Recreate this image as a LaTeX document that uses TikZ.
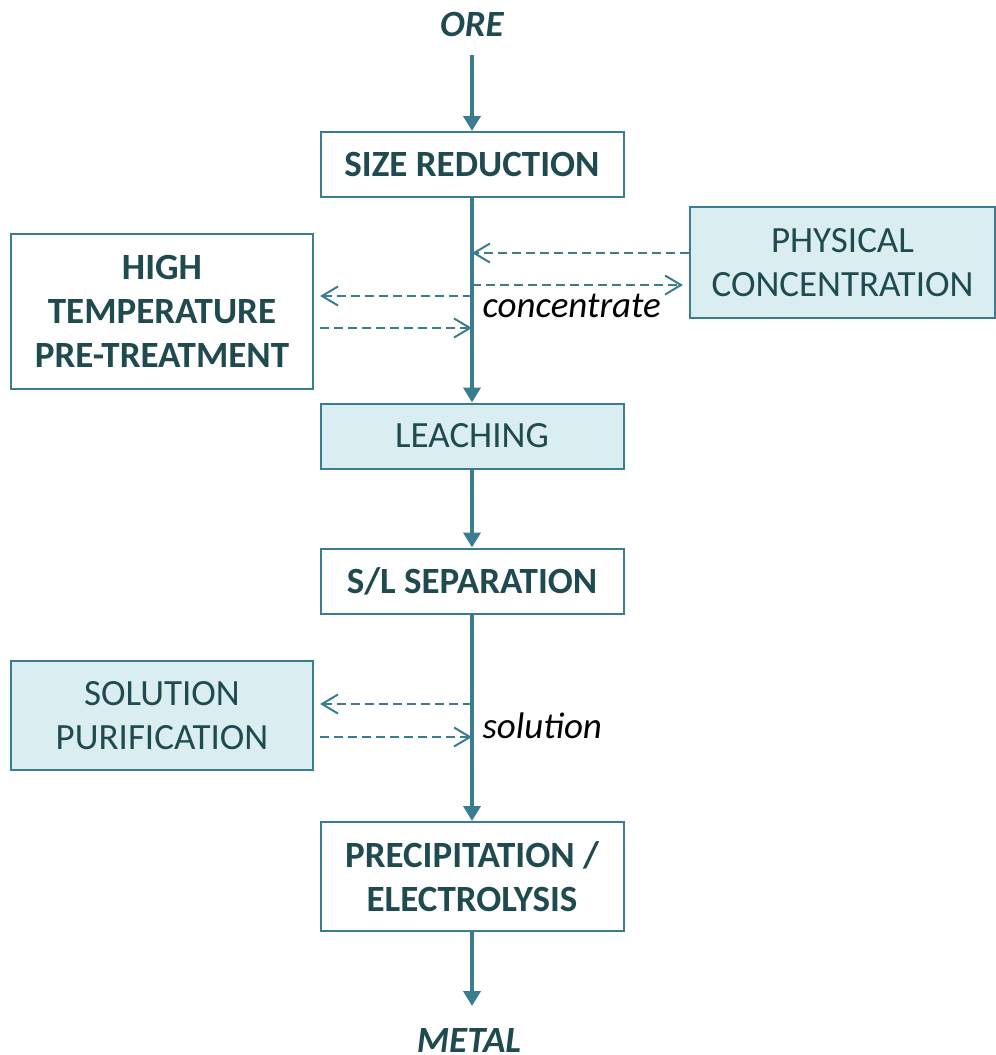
\documentclass[tikz,border=0pt]{standalone}
\usepackage{fontspec}
\setmainfont{Carlito}
\usetikzlibrary{arrows.meta}

\definecolor{linecol}{HTML}{3B7D90}
\definecolor{boxfill}{HTML}{DAEDF0}
\definecolor{textcol}{HTML}{1F4A4F}

\tikzset{
  stage/.style={draw=linecol,line width=2pt,minimum width=303pt,minimum height=65pt,
    align=center,inner sep=0pt,text=textcol,font=\fontsize{37}{44}\selectfont},
  key/.style={stage,font=\fontsize{37}{44}\selectfont\bfseries},
  side/.style={stage,fill=boxfill},
  flow/.style={draw=linecol,line width=4pt,-{Triangle[length=15pt,width=17pt]}},
  loop/.style={draw=linecol,line width=2pt,dash pattern=on 9pt off 5pt,
    -{Straight Barb[length=16pt,width=19pt,line width=2pt]}},
  io/.style={text=textcol,font=\fontsize{37}{44}\selectfont\bfseries\itshape},
  note/.style={font=\fontsize{37}{44}\selectfont\itshape,anchor=west}
}

\begin{document}
\begin{tikzpicture}[x=1pt,y=-1pt]
\useasboundingbox (0,0) rectangle (996,1055);

% main line of stages
\node[io] (ore) at (472,24) {ORE};
\node[key] (size) at (472,164.5) {SIZE REDUCTION};
\node[side] (leach) at (472,436) {LEACHING};
\node[key] (sep) at (472,581) {S/L SEPARATION};
\node[key,minimum height=109pt] (prec) at (472,876.5) {PRECIPITATION /\\ELECTROLYSIS};
\node[io] (metal) at (469,1040) {METAL};

% side stages
\node[key,minimum width=302pt,minimum height=155pt] (heat) at (162,311.5) {HIGH\\TEMPERATURE\\PRE-TREATMENT};
\node[side,minimum width=305pt,minimum height=111pt] (phys) at (842.5,262.5) {PHYSICAL\\CONCENTRATION};
\node[side,minimum width=302pt,minimum height=109pt] (purif) at (162,715.5) {SOLUTION\\PURIFICATION};

% points on the main line
\coordinate (p1) at (472,253);
\coordinate (p2) at (472,285);
\coordinate (p3) at (472,296);
\coordinate (p4) at (472,328);
\coordinate (s1) at (472,704);
\coordinate (s2) at (472,737);
\coordinate (in) at (472,55);
\coordinate (out) at (472,1006);

\draw[flow] (in) -- (size.north);
\draw[flow] (size.south) -- (leach.north);
\draw[flow] (leach.south) -- (sep.north);
\draw[flow] (sep.south) -- (prec.north);
\draw[flow] (prec.south) -- (out);

% loops
\draw[loop] (p1 -| phys.west) -- (p1);
\draw[loop] (p2) -- ([xshift=-6pt]p2 -| phys.west);
\draw[loop] (p3) -- ([xshift=6pt]p3 -| heat.east);
\draw[loop] ([xshift=6pt]p4 -| heat.east) -- (p4);
\draw[loop] (s1) -- ([xshift=6pt]s1 -| purif.east);
\draw[loop] ([xshift=6pt]s2 -| purif.east) -- (s2);

\node[note] (conc) at (479,306) {concentrate};
\node[note] (sol) at (479,726) {solution};
\end{tikzpicture}
\end{document}
